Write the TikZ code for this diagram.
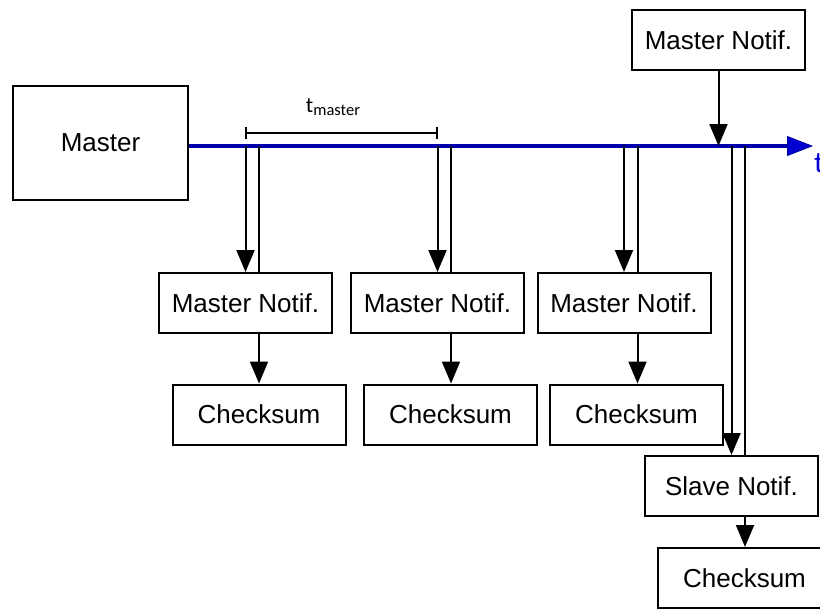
\documentclass[tikz,border=0pt]{standalone}
\usepackage{fontspec}
\setmainfont{Liberation Sans}
\newfontfamily\calibri{Carlito}
\usetikzlibrary{arrows.meta,calc}
\definecolor{tlblue}{RGB}{0,0,170}
\definecolor{headblue}{RGB}{0,0,210}
\begin{document}
\begin{tikzpicture}[x=1pt,y=-1pt,
  box/.style={draw=black,line width=2pt,minimum width=173pt,minimum height=60pt,inner sep=0pt,
    font=\fontsize{26}{31}\selectfont},
  link/.style={line width=2pt,draw=black},
  arr/.style={link,-{Triangle[width=18pt,length=22pt]}},
  timeline/.style={line width=3.5pt,draw=tlblue,-{Triangle[width=20pt,length=26pt,fill=headblue,line width=1pt]}}]
\useasboundingbox (0,0) rectangle (820,610);
\clip (0,0) rectangle (820,610);
% boxes
\node[box,minimum width=175pt,minimum height=114pt] (master) at (100.5,143) {Master};
\node[box] (mntop) at (718.5,40) {Master Notif.};
\node[box] (mn1) at (245.5,303) {Master Notif.};
\node[box] (mn2) at (437.5,303) {Master Notif.};
\node[box] (mn3) at (624,303) {Master Notif.};
\node[box] (cs1) at (259,414.5) {Checksum};
\node[box] (cs2) at (450.5,414.5) {Checksum};
\node[box] (cs3) at (636.5,414.5) {Checksum};
\node[box] (slave) at (731.5,486) {Slave Notif.};
\node[box] (cs4) at (744.5,578) {Checksum};
% timeline
\coordinate (tend) at (813,146);
\draw[timeline] (master.east |- tend) -- (tend);
\node[anchor=base west,inner sep=0pt,text=headblue,font=\calibri\fontsize{30}{36}\selectfont] (tlabel) at (814,172) {t};
% right-hand lines of the pairs
\coordinate (r1) at ($(mn1.north)+(13.5,0)$);
\coordinate (r2) at ($(mn2.north)+(13.5,0)$);
\coordinate (r3) at ($(mn3.north)+(13.5,0)$);
\coordinate (r4) at ($(slave.north)+(13.5,0)$);
\coordinate (r1b) at ($(mn1.south)+(13.5,0)$);
\coordinate (r2b) at ($(mn2.south)+(13.5,0)$);
\coordinate (r3b) at ($(mn3.south)+(13.5,0)$);
\coordinate (r4b) at ($(slave.south)+(13.5,0)$);
\foreach \b/\r in {mn1/r1,mn2/r2,mn3/r3,slave/r4}{
  \draw[arr] (\b.north |- tend) -- (\b.north);
  \draw[link] (\r |- tend) -- (\r);
}
\draw[arr] (r1b) -- (r1b |- cs1.north);
\draw[arr] (r2b) -- (r2b |- cs2.north);
\draw[arr] (r3b) -- (r3b |- cs3.north);
\draw[arr] (r4b) -- (r4b |- cs4.north);
\draw[arr] (mntop.south) -- (mntop.south |- tend);
% t_master bracket
\coordinate (bl) at (245,133);
\draw[link,{Bar[width=12pt]}-{Bar[width=12pt]}] (bl) -- (bl -| mn2.north);
\node[inner sep=0pt,anchor=base,font=\calibri\fontsize{22}{26}\selectfont] (tm) at (333,113)
  {t\raisebox{-3pt}{\fontsize{16.5}{19}\selectfont master}};
\end{tikzpicture}
\end{document}
